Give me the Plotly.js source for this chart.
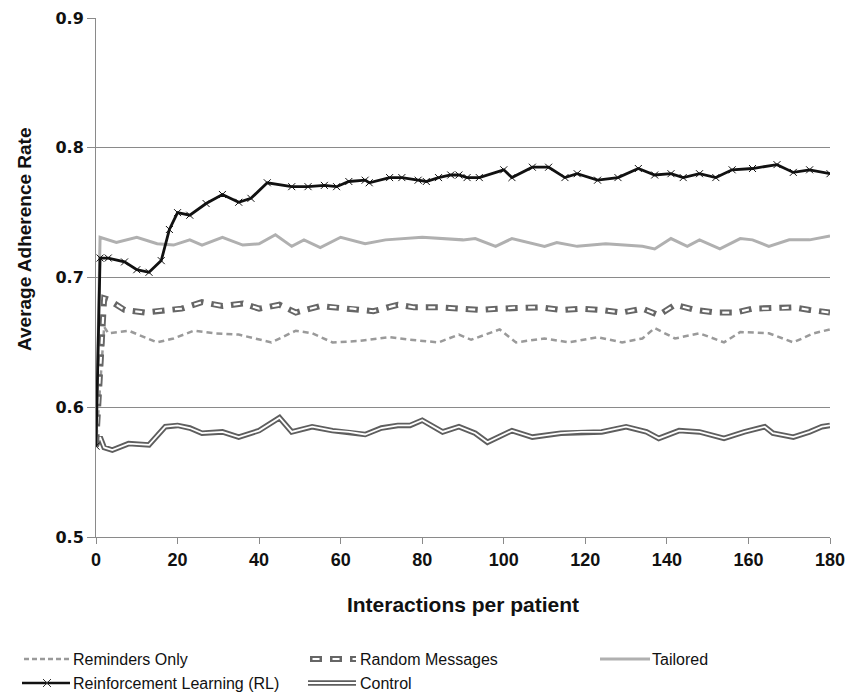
<!DOCTYPE html>
<html>
<head>
<meta charset="utf-8">
<script src="https://cdn.plot.ly/plotly-3.0.1.min.js"></script>
<style>html,body{margin:0;padding:0;background:#fff;} #chart{width:859px;height:693px;}</style>
</head>
<body>
<div id="chart"></div>
<script>
// ---- data ----
const rlX = [0,1,3,7,10,13,16,18,20,23,27,31,35,38,42,48,52,56,59,62,66,67,72,75,79,81,84,87,89,91,94,100,102,107,111,115,118,123,128,133,137,141,144,148,152,156,161,167,171,175,180];
const rlY = [0.57,0.715,0.715,0.712,0.706,0.704,0.713,0.737,0.750,0.748,0.757,0.764,0.758,0.761,0.773,0.770,0.770,0.771,0.770,0.774,0.775,0.773,0.777,0.777,0.775,0.774,0.777,0.779,0.779,0.777,0.777,0.783,0.777,0.785,0.785,0.777,0.780,0.775,0.777,0.784,0.779,0.780,0.777,0.780,0.777,0.783,0.784,0.787,0.781,0.783,0.780];

const tailX = [0,1,5,10,15,19,23,26,31,36,40,44,48,51,55,60,66,71,80,87,90,93,98,102,110,113,118,125,134,137,141,145,148,153,158,161,165,170,175,180];
const tailY = [0.57,0.731,0.727,0.731,0.726,0.725,0.729,0.725,0.731,0.725,0.726,0.733,0.724,0.729,0.723,0.731,0.726,0.729,0.731,0.730,0.729,0.730,0.724,0.730,0.724,0.727,0.724,0.726,0.724,0.722,0.730,0.724,0.729,0.722,0.730,0.729,0.724,0.729,0.729,0.732];

const randX = [0,2,3,7,12,17,21,26,31,36,40,45,49,55,59,63,68,74,78,84,89,94,99,104,109,114,119,124,129,134,138,142,147,152,157,161,166,171,175,180];
const randY = [0.57,0.684,0.683,0.675,0.673,0.675,0.676,0.681,0.678,0.680,0.676,0.679,0.673,0.678,0.677,0.676,0.674,0.679,0.677,0.677,0.676,0.675,0.676,0.677,0.677,0.675,0.676,0.675,0.673,0.676,0.671,0.679,0.675,0.673,0.673,0.676,0.676,0.677,0.675,0.673];

const remX = [0,2,3,8,15,19,24,29,35,43,49,53,58,64,72,77,84,89,92,99,103,110,116,123,129,134,137,142,148,154,158,165,171,176,180];
const remY = [0.57,0.662,0.657,0.659,0.650,0.653,0.659,0.657,0.656,0.650,0.659,0.657,0.650,0.651,0.654,0.652,0.650,0.656,0.652,0.660,0.650,0.653,0.650,0.654,0.650,0.653,0.661,0.653,0.657,0.650,0.658,0.657,0.650,0.657,0.660];

const ctrlX = [0,1,2,4,8,13,17,20,23,26,31,35,40,45,48,53,58,62,66,70,74,77,80,85,89,93,96,102,107,114,119,124,130,135,138,143,148,154,159,164,166,171,175,178,180];
const ctrlY = [0.57,0.577,0.569,0.567,0.572,0.571,0.585,0.586,0.584,0.580,0.581,0.577,0.582,0.592,0.581,0.585,0.582,0.581,0.579,0.584,0.586,0.586,0.590,0.581,0.585,0.580,0.573,0.582,0.577,0.580,0.581,0.581,0.585,0.581,0.576,0.582,0.581,0.576,0.581,0.585,0.580,0.577,0.581,0.585,0.586];

const seriesNames = ["Reminders Only","Random Messages","Tailored","Reinforcement Learning (RL)","Control"];
const xTicks = [0,20,40,60,80,100,120,140,160,180];
const yTicks = [0.5,0.6,0.7,0.8,0.9];

// ---- styling ----
const FONT = "Liberation Sans, Arial, sans-serif";
const W = 859, H = 693;
const M = {l:96, r:29, t:18, b:156};
const pw = W - M.l - M.r, ph = H - M.t - M.b;
const px = p => (p - M.l) / pw;
const py = p => (H - M.b - p) / ph;

const OUTER_DASH = '12px,8px';
const INNER_DASH = '0px,2.5px,7px,10.5px';

const traces = [
  {x: ctrlX, y: ctrlY, mode:'lines', line:{color:'#5e5e5e', width:5.5}, showlegend:false, hoverinfo:'skip'},
  {x: ctrlX, y: ctrlY, mode:'lines', line:{color:'#ffffff', width:1.8}, name: seriesNames[4], showlegend:false},
  {x: remX, y: remY, mode:'lines', line:{color:'#9a9a9a', width:2.5, dash:'6px,4px'}, name: seriesNames[0], showlegend:false},
  {x: randX, y: randY, mode:'lines', line:{color:'#666666', width:6, dash:OUTER_DASH}, showlegend:false, hoverinfo:'skip'},
  {x: randX, y: randY, mode:'lines', line:{color:'#ffffff', width:2.2, dash:INNER_DASH}, name: seriesNames[1], showlegend:false},
  {x: tailX, y: tailY, mode:'lines', line:{color:'#b0b0b0', width:3}, name: seriesNames[2], showlegend:false},
  {x: rlX, y: rlY, mode:'lines+markers', line:{color:'#111111', width:2.8},
   marker:{symbol:'x-thin-open', size:7, line:{color:'#555', width:1}}, name: seriesNames[3], showlegend:false}
];

// manual legend
const shapes = [];
const annotations = [];
function legendText(xPix, yPix, txt){
  annotations.push({xref:'paper', yref:'paper', x:px(xPix), y:py(yPix), text:txt, showarrow:false,
    xanchor:'left', yanchor:'middle', font:{family:FONT, size:16, color:'#111'}});
}
function legendLine(x0, x1, yPix, line){
  shapes.push({type:'line', xref:'paper', yref:'paper', x0:px(x0), x1:px(x1), y0:py(yPix), y1:py(yPix), line:line});
}
const r1 = 659, r2 = 683;
// Reminders Only
legendLine(24, 70, r1, {color:'#9a9a9a', width:2.5, dash:'5px,3px'});
legendText(71, r1, seriesNames[0]);
// Random Messages
legendLine(310, 356, r1, {color:'#666666', width:6, dash:OUTER_DASH});
legendLine(310, 356, r1, {color:'#ffffff', width:2.2, dash:INNER_DASH});
legendText(358, r1, seriesNames[1]);
// Tailored
legendLine(600, 650, r1, {color:'#b0b0b0', width:3});
legendText(650, r1, seriesNames[2]);
// RL
legendLine(22, 70, r2, {color:'#111111', width:2.5});
shapes.push({type:'path', xref:'paper', yref:'paper',
  path:`M${px(43)},${py(r2-4)} L${px(51)},${py(r2+4)} M${px(43)},${py(r2+4)} L${px(51)},${py(r2-4)}`,
  line:{color:'#333', width:1}});
legendText(71, r2, seriesNames[3]);
// Control
legendLine(308, 356, r2, {color:'#5e5e5e', width:5.5});
legendLine(308, 356, r2, {color:'#ffffff', width:1.8});
legendText(358, r2, seriesNames[4]);

// y-axis title (placed like the reference, above the plot centre)
annotations.push({xref:'paper', yref:'paper', x:px(24), y:py(239), text:'Average Adherence Rate',
  textangle:-90, showarrow:false, xanchor:'center', yanchor:'middle',
  font:{family:FONT, size:19, color:'#111', weight:'bold'}});

const layout = {
  width: W, height: H,
  margin: M,
  paper_bgcolor:'#fff', plot_bgcolor:'#fff',
  showlegend:false,
  xaxis:{
    range:[0,180], tickvals:xTicks, ticktext:xTicks.map(String),
    showgrid:false, zeroline:false,
    showline:true, linecolor:'#8a8a8a', linewidth:1,
    ticks:'outside', ticklen:6, tickcolor:'#8a8a8a',
    tickfont:{family:FONT, size:18, color:'#111', weight:'bold'},
    title:{text:'Interactions per patient', font:{family:FONT, size:21, color:'#111', weight:'bold'}, standoff:28},
    automargin:false
  },
  yaxis:{
    range:[0.5,0.9], tickvals:yTicks, ticktext:yTicks.map(v=>v.toFixed(1)),
    showgrid:true, gridcolor:'#8a8a8a', gridwidth:1, zeroline:false,
    showline:true, linecolor:'#8a8a8a', linewidth:1,
    ticks:'outside', ticklen:8, tickcolor:'#8a8a8a',
    tickfont:{family:'DejaVu Sans, sans-serif', size:16, color:'#111', weight:'bold'},
    automargin:false
  },
  shapes: shapes,
  annotations: annotations
};

Plotly.newPlot('chart', traces, layout, {staticPlot:true, displayModeBar:false});
</script>
</body>
</html>
